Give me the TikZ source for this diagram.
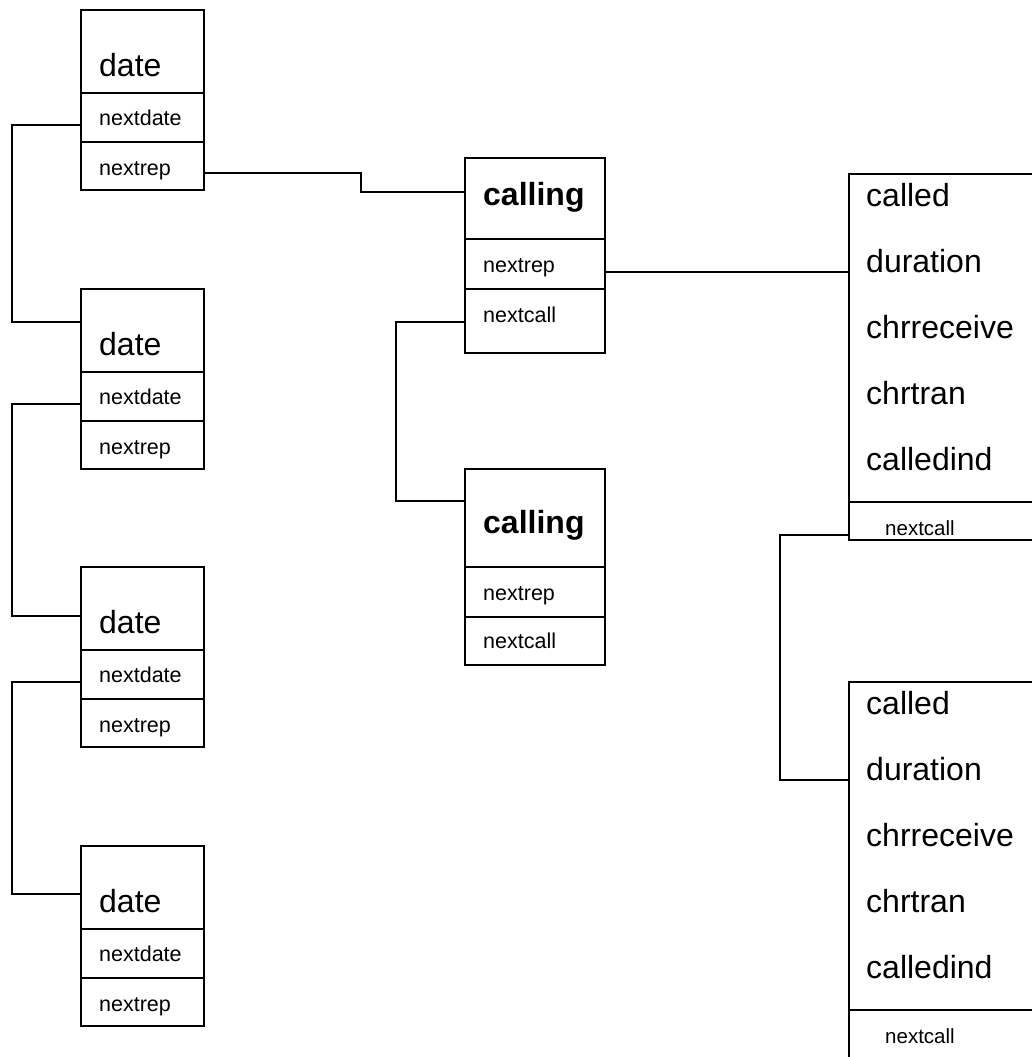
\documentclass[tikz,border=0pt]{standalone}
\usepackage{fontspec}
\setmainfont{Liberation Sans}
\usetikzlibrary{positioning}

\tikzset{
  cell/.style={draw, line width=2.4pt, inner sep=0pt, outer sep=0pt, minimum width=123pt},
  ccell/.style={cell, minimum width=140pt},
  kcell/.style={cell, minimum width=200pt},
  big/.style={anchor=base west, inner sep=0pt, font=\fontsize{32}{38}\selectfont},
  bigb/.style={big, font=\fontsize{32}{38}\selectfont\bfseries},
  small/.style={anchor=base west, inner sep=0pt, font=\fontsize{21.5}{26}\selectfont},
  smaller/.style={small, font=\fontsize{20.5}{25}\selectfont},
  link/.style={line width=2.4pt},
}

\begin{document}
\begin{tikzpicture}[x=1pt, y=-1pt]
\useasboundingbox (0,0) rectangle (1032,1057);

% date records
\node[cell, anchor=north west, minimum height=83pt] (date1) at (81,10) {};
\node[cell, minimum height=49pt, below=0pt of date1] (date1n) {};
\node[cell, minimum height=48pt, below=0pt of date1n] (date1r) {};
\node[big] (date1t) at (99,76) {date};
\node[small] (date1nt) at (99,125) {nextdate};
\node[small] (date1rt) at (99,175) {nextrep};

\node[cell, anchor=north west, minimum height=83pt] (date2) at (81,289) {};
\node[cell, minimum height=49pt, below=0pt of date2] (date2n) {};
\node[cell, minimum height=48pt, below=0pt of date2n] (date2r) {};
\node[big] (date2t) at (99,355) {date};
\node[small] (date2nt) at (99,404) {nextdate};
\node[small] (date2rt) at (99,454) {nextrep};

\node[cell, anchor=north west, minimum height=83pt] (date3) at (81,567) {};
\node[cell, minimum height=49pt, below=0pt of date3] (date3n) {};
\node[cell, minimum height=48pt, below=0pt of date3n] (date3r) {};
\node[big] (date3t) at (99,633) {date};
\node[small] (date3nt) at (99,682) {nextdate};
\node[small] (date3rt) at (99,732) {nextrep};

\node[cell, anchor=north west, minimum height=83pt] (date4) at (81,846) {};
\node[cell, minimum height=49pt, below=0pt of date4] (date4n) {};
\node[cell, minimum height=48pt, below=0pt of date4n] (date4r) {};
\node[big] (date4t) at (99,912) {date};
\node[small] (date4nt) at (99,961) {nextdate};
\node[small] (date4rt) at (99,1011) {nextrep};

% calling records
\node[ccell, anchor=north west, minimum height=81pt] (call1) at (465,158) {};
\node[ccell, minimum height=50pt, below=0pt of call1] (call1r) {};
\node[ccell, minimum height=64pt, below=0pt of call1r] (call1n) {};
\node[bigb] (call1t) at (483,205) {calling};
\node[small] (call1rt) at (483,272) {nextrep};
\node[small] (call1nt) at (483,322) {nextcall};

\node[ccell, anchor=north west, minimum height=98pt] (call2) at (465,469) {};
\node[ccell, minimum height=50pt, below=0pt of call2] (call2r) {};
\node[ccell, minimum height=48pt, below=0pt of call2r] (call2n) {};
\node[bigb] (call2t) at (483,533) {calling};
\node[small] (call2rt) at (483,600) {nextrep};
\node[small] (call2nt) at (483,648) {nextcall};

% called records
\node[kcell, anchor=north west, minimum height=328pt] (cld1) at (849,174) {};
\node[kcell, minimum height=38pt, below=0pt of cld1] (cld1n) {};
\node[big] (cld1at) at (866,206) {called};
\node[big] (cld1dt) at (866,272) {duration};
\node[big] (cld1ct) at (866,338) {chrreceive};
\node[big] (cld1tt) at (866,404) {chrtran};
\node[big] (cld1it) at (866,470) {calledind};
\node[smaller] (cld1nt) at (885,535) {nextcall};

\node[kcell, anchor=north west, minimum height=328pt] (cld2) at (849,682) {};
\node[kcell, minimum height=60pt, below=0pt of cld2] (cld2n) {};
\node[big] (cld2at) at (866,714) {called};
\node[big] (cld2dt) at (866,780) {duration};
\node[big] (cld2ct) at (866,846) {chrreceive};
\node[big] (cld2tt) at (866,912) {chrtran};
\node[big] (cld2it) at (866,978) {calledind};
\node[smaller] (cld2nt) at (885,1043) {nextcall};

% links
\draw[link] (date1n.west |- date1nt.base) -- ++(-69,0) |- ([yshift=-33pt]date2.north west);
\draw[link] (date2n.west |- date2nt.base) -- ++(-69,0) |- ([yshift=-49pt]date3.north west);
\draw[link] (date3n.west |- date3nt.base) -- ++(-69,0) |- ([yshift=-48pt]date4.north west);
\draw[link] ([yshift=-7pt]date1r.east) -- ++(157,0) |- ([yshift=-34pt]call1.north west);
\draw[link] (call1n.west |- call1nt.base) -- ++(-69,0) |- ([yshift=-32pt]call2.north west);
\draw[link] (call1r.east |- call1rt.base) -- (cld1.west |- call1rt.base);
\draw[link] (cld1n.west |- cld1nt.base) -- ++(-69,0) |- (cld2.west |- cld2dt.base);

\end{tikzpicture}
\end{document}
